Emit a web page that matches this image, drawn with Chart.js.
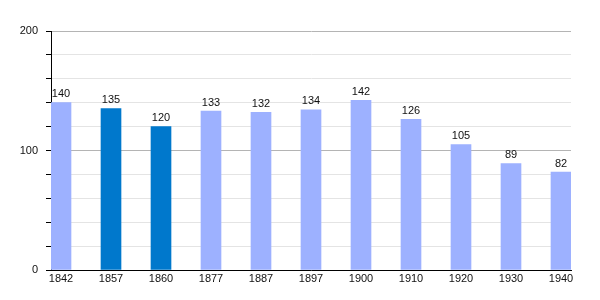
<!DOCTYPE html>
<html>
<head>
<meta charset="utf-8">
<script src="https://cdn.jsdelivr.net/npm/chart.js@4"></script>
<style>
  html, body { margin: 0; padding: 0; background: #fff; }
  #wrap { width: 600px; height: 300px; }
</style>
</head>
<body>
<div id="wrap"><canvas id="myChart" width="600" height="300"></canvas></div>
<script>
const years = ['1842', '1857', '1860', '1877', '1887', '1897', '1900', '1910', '1920', '1930', '1940'];
const population = [140, 135, 120, 133, 132, 134, 142, 126, 105, 89, 82];
const highlighted = ['1857', '1860'];
const yTicks = [0, 100, 200];

const lightBar = '#9db1ff';
const darkBar = '#0078cc';

// draws the number above each bar
const valueLabels = {
  id: 'valueLabels',
  afterDatasetsDraw(chart) {
    const ctx = chart.ctx;
    const meta = chart.getDatasetMeta(0);
    ctx.save();
    ctx.font = '11px "Liberation Sans", Arial, sans-serif';
    ctx.fillStyle = '#111';
    ctx.textAlign = 'center';
    ctx.textBaseline = 'bottom';
    meta.data.forEach((bar, i) => {
      ctx.fillText(String(population[i]), bar.x, bar.y - 3);
    });
    ctx.restore();
  }
};

const ctx = document.getElementById('myChart').getContext('2d');
new Chart(ctx, {
  type: 'bar',
  data: {
    datasets: [{
      data: population.map((v, i) => ({ x: i, y: v })),
      backgroundColor: years.map(y => highlighted.includes(y) ? darkBar : lightBar),
      barThickness: 20,
      borderWidth: 0
    }]
  },
  options: {
    responsive: false,
    animation: false,
    layout: { padding: { left: 0, right: 29, top: 31, bottom: 0 } },
    plugins: { legend: { display: false }, tooltip: { enabled: false } },
    scales: {
      x: {
        type: 'linear',
        min: -0.2,
        max: 10.2,
        offset: false,
        afterFit(scale) { scale.height = 30; },
        ticks: {
          stepSize: 1,
          includeBounds: false,
          autoSkip: false,
          maxRotation: 0,
          padding: 2,
          color: '#111',
          font: { family: '"Liberation Sans", Arial, sans-serif', size: 11 },
          callback: (v) => years[v] !== undefined && Number.isInteger(v) ? years[v] : ''
        },
        grid: { display: false, drawTicks: false, tickLength: 0 },
        border: { display: true, color: '#000', width: 1 }
      },
      y: {
        min: 0,
        max: 200,
        afterFit(scale) { scale.width = 51; },
        ticks: {
          stepSize: 20,
          padding: 8,
          color: '#111',
          font: { family: '"Liberation Sans", Arial, sans-serif', size: 11 },
          callback: (v) => yTicks.includes(v) ? String(v) : ''
        },
        grid: {
          color: (c) => c.tick && c.tick.value % 100 === 0 ? '#b4b4b4' : '#e4e4e4',
          tickColor: '#000',
          tickLength: 5
        },
        border: { display: true, color: '#000', width: 1 }
      }
    }
  },
  plugins: [valueLabels]
});
</script>
</body>
</html>
